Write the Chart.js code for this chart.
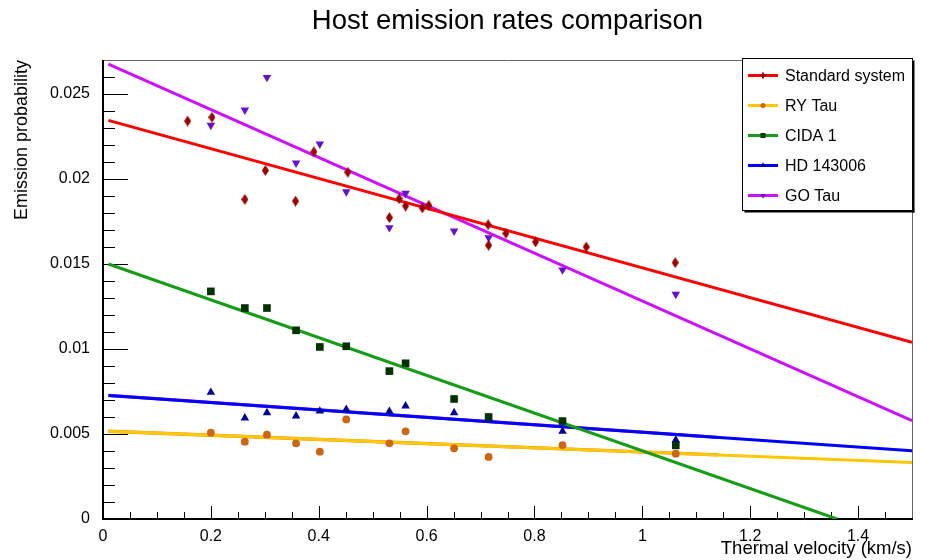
<!DOCTYPE html>
<html>
<head>
<meta charset="utf-8">
<title>Host emission rates comparison</title>
<script src="https://cdn.jsdelivr.net/npm/chart.js@4.4.1/dist/chart.umd.min.js"></script>
<style>
  html, body { margin: 0; padding: 0; background: #fff; }
</style>
</head>
<body>
<canvas id="emission" width="930" height="560"></canvas>
<script>
// values
const seriesNames = ['Standard system', 'RY Tau', 'CIDA 1', 'HD 143006', 'GO Tau'];

const stdVelocity = [0.157, 0.202, 0.263, 0.301, 0.357, 0.391, 0.454, 0.531, 0.549,
                     0.561, 0.592, 0.604, 0.714, 0.715, 0.747, 0.802, 0.896, 1.061];
const stdRate     = [0.02341, 0.02363, 0.0188, 0.0205, 0.0187, 0.0216, 0.0204, 0.01773, 0.01884,
                     0.01841, 0.0183, 0.01845, 0.01731, 0.0161, 0.0168, 0.0163, 0.0160, 0.01508];

const hostVelocity = [0.2, 0.263, 0.304, 0.358, 0.402, 0.451, 0.531, 0.561, 0.651, 0.715, 0.852, 1.062];
const ryTauRate    = [0.00508, 0.00455, 0.00496, 0.00445, 0.00396, 0.00586, 0.00445, 0.00516, 0.00416, 0.00365, 0.00435, 0.00384];
const cida1Rate    = [0.01339, 0.01241, 0.01241, 0.0111, 0.01012, 0.01016, 0.0087, 0.00916, 0.00706, 0.0060, 0.00576, 0.00433];
const hd143006Rate = [0.00745, 0.00594, 0.00625, 0.00606, 0.00635, 0.00645, 0.00633, 0.00665, 0.00625, 0.00594, 0.00516, 0.00465];
const goTauRate    = [0.02316, 0.02406, 0.02598, 0.02094, 0.02206, 0.01925, 0.01714, 0.01916, 0.01694, 0.01655, 0.01465, 0.01322];

// fitted lines (end points)
const fitVelocity      = [0.01, 1.5];
const stdFit           = [0.02345, 0.01040];
const ryTauFit         = [0.00516, 0.00333];
const cida1FitVelocity = [0.01, 1.361];
const cida1Fit         = [0.0150, 0];
const hd143006Fit      = [0.00727, 0.00401];
const goTauFit         = [0.02676, 0.00578];
const shortFitVelocity = [0.01, 1.14];
const ryTauShortFit    = [0.00516, 0.00377];
const hdShortFit       = [0.00727, 0.00480];

const xTicks = [0, 0.2, 0.4, 0.6, 0.8, 1, 1.2, 1.4];
const xTickLabels = ['0', '0.2', '0.4', '0.6', '0.8', '1', '1.2', '1.4'];
const yTicks = [0, 0.005, 0.01, 0.015, 0.02, 0.025];
const yTickLabels = ['0', '0.005', '0.01', '0.015', '0.02', '0.025'];

const FONT = "'Liberation Sans', Arial, Helvetica, sans-serif";

function pts(xs, ys) {
    return xs.map((x, i) => ({x: x, y: ys[i]}));
}

function diamond(color) {
    const c = document.createElement('canvas');
    c.width = 7; c.height = 11;
    const g = c.getContext('2d');
    g.fillStyle = color;
    g.beginPath();
    g.moveTo(3.5, 0); g.lineTo(7, 5.5); g.lineTo(3.5, 11); g.lineTo(0, 5.5);
    g.closePath();
    g.fill();
    return c;
}

const styles = [
    {line: '#ff0000', marker: '#990000', pointStyle: diamond('#990000'), radius: 5, rotation: 0},
    {line: '#ffc800', marker: '#cc6611', pointStyle: 'circle', radius: 3.9, rotation: 0},
    {line: '#169c16', marker: '#003300', pointStyle: 'rect', radius: 5.4, rotation: 0},
    {line: '#0000ff', marker: '#000099', pointStyle: 'triangle', radius: 4.9, rotation: 0},
    {line: '#cc11ff', marker: '#6611cc', pointStyle: 'triangle', radius: 4.9, rotation: 180}
];

const markerData = [pts(stdVelocity, stdRate), pts(hostVelocity, ryTauRate), pts(hostVelocity, cida1Rate),
                    pts(hostVelocity, hd143006Rate), pts(hostVelocity, goTauRate)];
const fitData = [pts(fitVelocity, stdFit), pts(fitVelocity, ryTauFit), pts(cida1FitVelocity, cida1Fit),
                 pts(fitVelocity, hd143006Fit), pts(fitVelocity, goTauFit)];

const datasets = [];
styles.forEach((s, i) => {
    datasets.push({
        label: seriesNames[i],
        data: markerData[i],
        showLine: false,
        pointStyle: s.pointStyle,
        pointRadius: s.radius,
        pointRotation: s.rotation,
        pointBackgroundColor: s.marker,
        pointBorderWidth: 0,
        order: 1
    });
});
// faint duplicate fits seen under the yellow and blue lines
datasets.push({data: pts(shortFitVelocity, ryTauShortFit), showLine: true, borderColor: '#e8882a', borderWidth: 3.4, pointRadius: 0, order: 4});
datasets.push({data: pts(shortFitVelocity, hdShortFit), showLine: true, borderColor: '#a020d0', borderWidth: 3.4, pointRadius: 0, order: 4});
styles.forEach((s, i) => {
    datasets.push({
        data: fitData[i],
        showLine: true,
        borderColor: s.line,
        borderWidth: 3,
        pointRadius: 0,
        order: 3 - (i === 2 ? 1 : 0)
    });
});

// ROOT-like frame with inward ticks
const frameTicks = {
    id: 'frameTicks',
    beforeDatasetsDraw(chart) {
        const {ctx, chartArea: a, scales: {x, y}} = chart;
        ctx.save();
        ctx.strokeStyle = '#000';
        ctx.lineWidth = 1;
        ctx.beginPath();
        for (let i = 0; i <= 27; i++) {
            const py = Math.round(y.getPixelForValue(i * 0.001)) + 0.5;
            const len = i % 5 === 0 ? 25 : 12;
            ctx.moveTo(a.left, py); ctx.lineTo(a.left + len, py);
        }
        for (let i = 0; i <= 30; i++) {
            const px = Math.round(x.getPixelForValue(i * 0.05)) + 0.5;
            const len = i % 4 === 0 ? 13 : 7;
            ctx.moveTo(px, a.bottom); ctx.lineTo(px, a.bottom - len);
        }
        ctx.stroke();

        ctx.strokeStyle = '#666';
        ctx.beginPath();
        ctx.moveTo(a.left, a.top + 0.5); ctx.lineTo(a.right + 0.5, a.top + 0.5);
        ctx.lineTo(a.right + 0.5, a.bottom);
        ctx.stroke();

        ctx.strokeStyle = '#000';
        ctx.lineWidth = 2;
        ctx.beginPath();
        ctx.moveTo(a.left, a.top); ctx.lineTo(a.left, a.bottom); ctx.lineTo(a.right + 1, a.bottom);
        ctx.stroke();
        ctx.restore();
    }
};

const rootLegend = {
    id: 'rootLegend',
    afterDraw(chart) {
        const ctx = chart.ctx;
        const bx = 742.5, by = 58.5, bw = 170, bh = 152;
        ctx.save();
        ctx.fillStyle = '#fff';
        ctx.fillRect(bx, by, bw, bh);
        ctx.strokeStyle = '#000';
        ctx.lineWidth = 1;
        ctx.strokeRect(bx, by, bw, bh);
        ctx.fillStyle = '#000';
        ctx.fillRect(bx + bw, by + 2, 2, bh);
        ctx.fillRect(bx + 2, by + bh, bw, 2);

        ctx.font = '16px ' + FONT;
        ctx.textBaseline = 'middle';
        seriesNames.forEach((name, i) => {
            const s = styles[i];
            const cy = 75.5 + i * 30;
            ctx.strokeStyle = s.line;
            ctx.lineWidth = 3;
            ctx.beginPath();
            ctx.moveTo(748, cy); ctx.lineTo(778, cy);
            ctx.stroke();
            ctx.fillStyle = s.marker;
            let ps = s.pointStyle;
            if (typeof ps !== 'string') {
                ctx.fillRect(762, cy - 3, 2, 6);
                ctx.fillRect(760, cy - 1, 6, 2);
            } else {
                Chart.helpers.drawPoint(ctx, {pointStyle: ps, radius: s.radius * 0.65, rotation: s.rotation, borderWidth: 0}, 763, cy);
            }
            ctx.fillStyle = '#000';
            ctx.fillText(name, 785, cy + 1);
        });
        ctx.restore();
    }
};

new Chart(document.getElementById('emission').getContext('2d'), {
    type: 'scatter',
    data: {datasets: datasets},
    options: {
        responsive: false,
        animation: false,
        devicePixelRatio: 1,
        layout: {padding: {left: 0, right: 18, top: 0, bottom: 0}},
        plugins: {
            legend: {display: false},
            tooltip: {enabled: false},
            title: {
                display: true,
                fullSize: false,
                text: 'Host emission rates comparison',
                color: '#000',
                font: {family: FONT, size: 27.5, weight: 'normal'},
                padding: {top: 5, bottom: 22}
            }
        },
        scales: {
            x: {
                type: 'linear', min: 0, max: 1.5,
                grid: {display: false, drawTicks: false},
                border: {display: false},
                afterBuildTicks: s => { s.ticks = xTicks.map(v => ({value: v})); },
                afterFit: s => { s.height = 41; },
                ticks: {
                    autoSkip: false, maxRotation: 0, padding: 8, color: '#000',
                    font: {family: FONT, size: 16},
                    callback: (v, i) => xTickLabels[i]
                },
                title: {
                    display: true, text: 'Thermal velocity (km/s)', align: 'end', color: '#000',
                    font: {family: FONT, size: 18.5}, padding: {top: 0, bottom: 0}
                }
            },
            y: {
                type: 'linear', min: 0, max: 0.027,
                grid: {display: false, drawTicks: false},
                border: {display: false},
                afterBuildTicks: s => { s.ticks = yTicks.map(v => ({value: v})); },
                afterFit: s => { s.width = 103; },
                ticks: {
                    autoSkip: false, padding: 13, color: '#000',
                    font: {family: FONT, size: 16},
                    callback: (v, i) => yTickLabels[i]
                },
                title: {
                    display: true, text: 'Emission probability', align: 'end', color: '#000',
                    font: {family: FONT, size: 18}, padding: {top: 11, bottom: 0}
                }
            }
        }
    },
    plugins: [frameTicks, rootLegend]
});
</script>
</body>
</html>
